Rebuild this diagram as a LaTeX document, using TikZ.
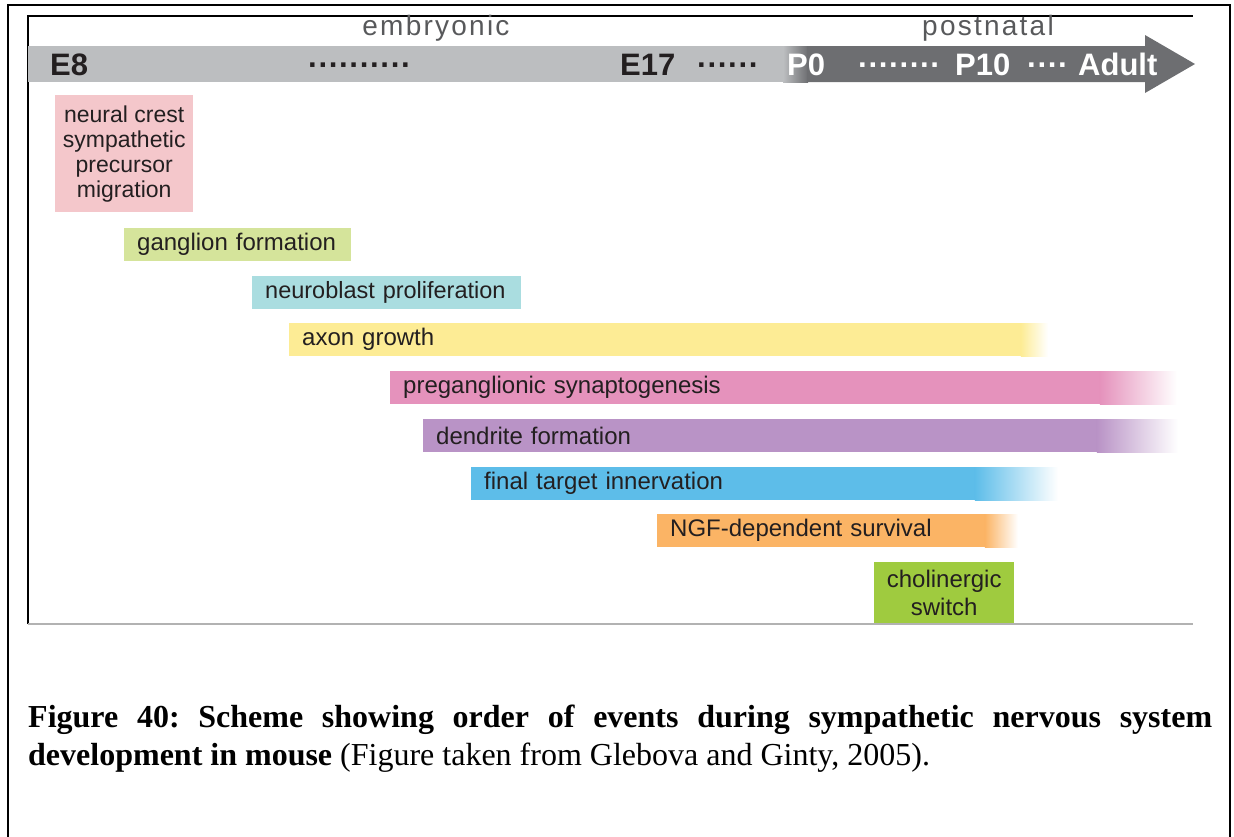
\documentclass[tikz,border=0pt]{standalone}
\usepackage{fontspec}
\setmainfont{Liberation Serif}
\newfontfamily\helv{Liberation Sans}
\usetikzlibrary{positioning}

\definecolor{barlight}{HTML}{BCBEC0}
\definecolor{bardark}{HTML}{6D6E71}
\definecolor{eragray}{HTML}{58595B}
\definecolor{inkdark}{HTML}{231F20}
\definecolor{crestcol}{HTML}{F4C7CB}
\definecolor{gangcol}{HTML}{D5E49B}
\definecolor{neurocol}{HTML}{AADDE0}
\definecolor{axoncol}{HTML}{FDEC95}
\definecolor{synapcol}{HTML}{E592BC}
\definecolor{dendcol}{HTML}{B993C6}
\definecolor{targetcol}{HTML}{5DBDE9}
\definecolor{ngfcol}{HTML}{FBB465}
\definecolor{cholcol}{HTML}{9FCB3F}

\begin{document}
\begin{tikzpicture}[
    x=1pt, y=-1pt,
    stage/.style={rectangle, anchor=north west, inner xsep=13pt, inner ysep=0pt, minimum height=33pt, text width=#1, align=left, text=inkdark, font=\helv\fontsize{24}{27}\selectfont},
    block/.style={rectangle, anchor=north west, inner sep=0pt, align=center, text=inkdark, font=\helv\fontsize{23}{25}\selectfont},
    daylabel/.style={anchor=base west, inner sep=0pt, text=inkdark, font=\helv\bfseries\fontsize{31}{31}\selectfont},
    era/.style={inner sep=0pt, text=eragray, font=\helv\fontsize{28}{28}\selectfont\addfontfeature{LetterSpace=8}},
    fade/.style={left color=#1, right color=white, draw=none}
]
    \useasboundingbox (0,0) rectangle (1234,836);

    % frames
    \draw[line width=2pt] (8,840) -- (8,5) -- (1230,5) -- (1230,840);
    \draw[line width=1.6pt] (28,624) -- (28,16) -- (1193,16);

    % time axis
    \fill[barlight] (28,46) rectangle (785,82);
    \shade[left color=barlight, right color=bardark] (783,46) rectangle (808,82);
    \fill[bardark] (807,46) -- (1145,46) -- (1145,35) -- (1195,64) -- (1145,93) -- (1145,82) -- (807,82) -- cycle;

    \node[era] (embryonic) at (436,28) {embryonic};
    \node[era] (postnatal) at (988,28) {postnatal};

    \node[daylabel] (e8) at (50,75) {E8};
    \node[daylabel] (dotsa) at (308,75) {··········};
    \node[daylabel] (e17) at (620,75) {E17};
    \node[daylabel] (dotsb) at (697,75) {······};
    \node[daylabel, text=white] (p0) at (787,75) {P0};
    \node[daylabel, text=white] (dotsc) at (858,75) {········};
    \node[daylabel, text=white] (p10) at (955,75) {P10};
    \node[daylabel, text=white] (dotsd) at (1027,75) {····};
    \node[daylabel, text=white] (adult) at (1078,75) {Adult};

    % events
    \node[block, fill=crestcol, minimum width=138pt, minimum height=117pt] (crest) at (55,95) {neural crest\\sympathetic\\precursor\\migration};
    \node[stage=201pt, fill=gangcol] (ganglion) at (124,228) {ganglion formation};
    \node[stage=243pt, fill=neurocol, font=\helv\fontsize{23.5}{27}\selectfont] (neuroblast) at (252,276) {neuroblast proliferation};
    \node[stage=706pt, fill=axoncol] (axon) at (289,323) {axon growth};
    \node[stage=684pt, fill=synapcol] (synapto) at (390,371) {preganglionic synaptogenesis};
    \node[stage=648pt, fill=dendcol] (dendrite) at (423,419) {dendrite formation};
    \node[stage=478pt, fill=targetcol] (target) at (471,467) {final target innervation};
    \node[stage=302pt, fill=ngfcol] (ngf) at (657,514) {NGF-dependent survival};
    \node[block, fill=cholcol, minimum width=140pt, minimum height=62pt, font=\helv\fontsize{24}{28}\selectfont] (choline) at (874,562) {cholinergic\\switch};

    \shade[fade=axoncol] ([xshift=-0.5pt]axon.north east) rectangle ++(27,33);
    \shade[fade=synapcol] ([xshift=-0.5pt]synapto.north east) rectangle ++(77,33);
    \shade[fade=dendcol] ([xshift=-0.5pt]dendrite.north east) rectangle ++(81,33);
    \shade[fade=targetcol] ([xshift=-0.5pt]target.north east) rectangle ++(83,33);
    \shade[fade=ngfcol] ([xshift=-0.5pt]ngf.north east) rectangle ++(33,33);

    \draw[black!30, line width=1.2pt] (28,624) -- (1193,624);

    % caption
    \node[anchor=north west, text width=1184pt, align=justify, inner sep=0pt, font=\fontsize{32}{38}\selectfont\frenchspacing] (caption) at (28,705)
        {\textbf{Figure 40: Scheme showing order of events during sympathetic nervous system\linebreak development in mouse} (Figure taken from Glebova and Ginty, 2005).};
\end{tikzpicture}
\end{document}
